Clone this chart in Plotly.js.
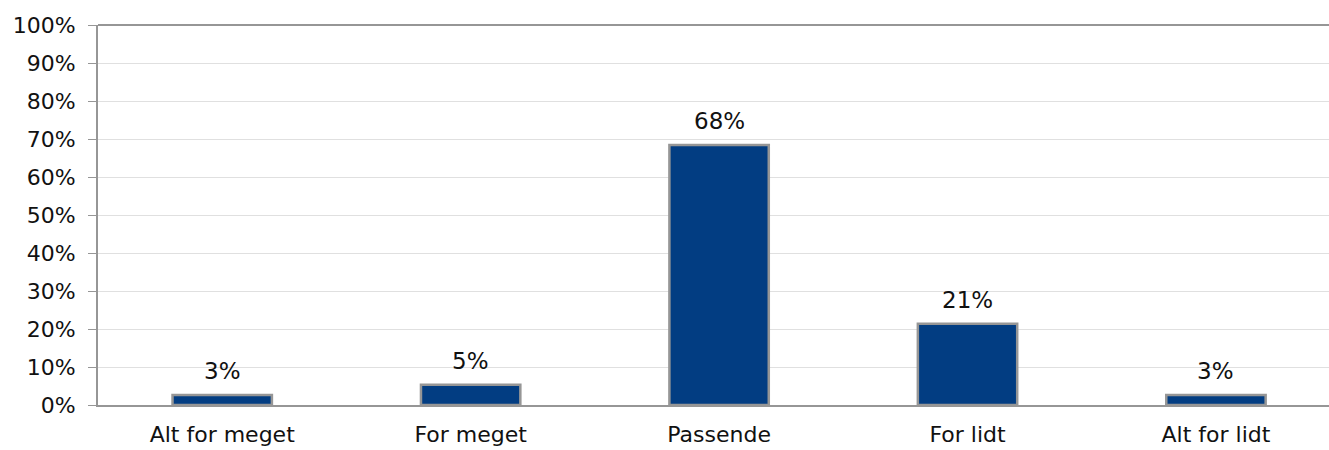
<!DOCTYPE html>
<html><head><meta charset="utf-8">
<script src="https://cdn.plot.ly/plotly-3.0.1.min.js"></script>
<style>html,body{margin:0;padding:0;overflow:hidden;background:#fff}</style>
</head><body><div id="chart" style="width:1329px;height:450px"></div>
<script>
const categories = ["Alt for meget", "For meget", "Passende", "For lidt", "Alt for lidt"];
const values = [2.6, 5.3, 68.4, 21.4, 2.6];
const labels = ["3%", "5%", "68%", "21%", "3%"];
const yTickVals = [0,10,20,30,40,50,60,70,80,90,100];
const yTickText = ["0%","10%","20%","30%","40%","50%","60%","70%","80%","90%","100%"];

const font = {family: "DejaVu Sans", size: 23, color: "#111"};
const xFont = {family: "DejaVu Sans", size: 22, color: "#111"};
const yFont = {family: "DejaVu Sans", size: 22, color: "#111"};
const trace = {
  type: "bar", x: categories, y: values, width: 0.4,
  marker: {color: "#023D82", line: {color: "#969696", width: 2.5}},
  hoverinfo: "none"
};
const annotations = categories.map((c, i) => ({
  x: c, y: values[i], xref: "x", yref: "y", text: labels[i],
  showarrow: false, yanchor: "bottom", yshift: 9, font: font
}));
const layout = {
  width: 1329, height: 450,
  margin: {l: 98, r: 0, t: 25, b: 45},
  paper_bgcolor: "#fff", plot_bgcolor: "#fff",
  showlegend: false, bargap: 0.6,
  font: font,
  xaxis: {range: [-0.5, 4.455], showline: true, linecolor: "#969696", linewidth: 2,
          ticks: "", showgrid: false, tickfont: xFont, ticklabelstandoff: 9, fixedrange: true},
  yaxis: {range: [0, 100], tickvals: yTickVals, ticktext: yTickText,
          showline: true, linecolor: "#969696", linewidth: 2,
          ticks: "outside", ticklen: 8, tickcolor: "#969696", tickwidth: 1,
          showgrid: true, gridcolor: "#e0e0e0", gridwidth: 1,
          zeroline: false, tickfont: yFont, ticklabelstandoff: 8, fixedrange: true},
  shapes: [{type: "line", xref: "paper", yref: "paper", x0: 0, x1: 1, y0: 1, y1: 1,
            line: {color: "#969696", width: 2}}],
  annotations: annotations
};
Plotly.newPlot("chart", [trace], layout, {displayModeBar: false, staticPlot: true});
</script></body></html>
